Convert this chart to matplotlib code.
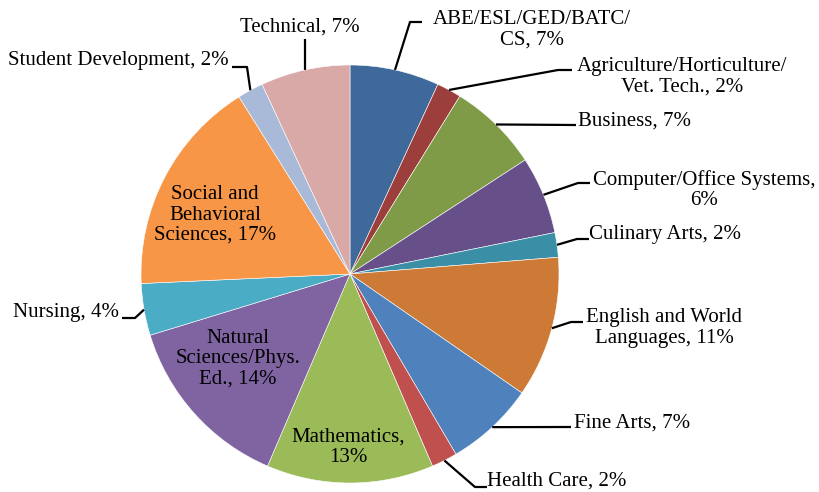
import numpy as np
import matplotlib
matplotlib.use("Agg")
import matplotlib.pyplot as plt

plt.rcParams['font.family'] = ['Liberation Serif', 'DejaVu Serif']

# slice shares, clockwise from 12 o'clock
values = [6.9, 1.9, 7.0, 6.0, 1.9, 10.9, 6.9, 2.0, 12.9, 13.8, 4.0, 16.8, 2.0, 6.9]
labels = ["ABE/ESL/GED/BATC/\nCS, {}%",
          "Agriculture/Horticulture/\nVet. Tech., {}%",
          "Business, {}%",
          "Computer/Office Systems,\n{}%",
          "Culinary Arts, {}%",
          "English and World\nLanguages, {}%",
          "Fine Arts, {}%",
          "Health Care, {}%",
          "Mathematics,\n{}%",
          "Natural\nSciences/Phys.\nEd., {}%",
          "Nursing, {}%",
          "Social and\nBehavioral\nSciences, {}%",
          "Student Development, {}%",
          "Technical, {}%"]
colors = ['#3E699A', '#9C3E3B', '#7F9B48', '#67508A', '#3A8FA7', '#CD7A36',
          '#4F81BD', '#C0504D', '#9BBB59', '#8064A2', '#4BACC6', '#F79646',
          '#A9B9D8', '#D9A9A8']

W, H = 820, 492
CX, CY, R = 350, 274, 209   # pixel layout, y measured from top

# label centre, leader knee and leader end (pixels from top); None = inside label
layout = [
    ((532, 30), (410, 22), (422, 22)),
    ((682, 77), (558, 70), (572, 70)),
    ((635, 121), None, (576, 125)),
    ((704, 190), (578, 183), (590, 183)),
    ((665, 235), (577, 239), (589, 239)),
    ((664, 328), (571, 322), (583, 322)),
    ((632, 423), None, (571, 427)),
    ((557, 481), (475, 487), (487, 487)),
    ((348, 447), None, None),
    ((238, 359), None, None),
    ((66, 312), (135, 318), (122, 318)),
    ((215, 215), None, None),
    ((118, 60), (247, 67), (232, 67)),
    ((300, 27), None, (305, 39)),
]


def fy(y):
    return H - y


def main() -> None:
    fig = plt.figure(figsize=(W / 100, H / 100), dpi=100)
    ax = fig.add_axes([0, 0, 1, 1])
    ax.pie(values, colors=colors, startangle=90, counterclock=False,
           center=(CX, fy(CY)), radius=R, frame=True,
           wedgeprops=dict(edgecolor='white', linewidth=0.4))
    ax.set_xlim(0, W)
    ax.set_ylim(0, H)
    ax.set_aspect('equal')
    ax.axis('off')

    total = sum(values)
    cum = np.cumsum(values)
    for i, v in enumerate(values):
        pct = int(round(v / total * 100))
        (tx, ty), knee, end = layout[i]
        ax.text(tx, fy(ty), labels[i].format(pct), fontsize=15,
                ha='center', va='center', multialignment='center',
                linespacing=1.1, color='black')
        if end is None:
            continue
        theta = np.radians(360 * (cum[i] - v / 2) / total)
        sx = CX + R * np.sin(theta)
        sy = fy(CY) + R * np.cos(theta)
        xs, ys = [sx], [sy]
        if knee is not None:
            xs.append(knee[0])
            ys.append(fy(knee[1]))
        xs.append(end[0])
        ys.append(fy(end[1]))
        ax.plot(xs, ys, color='black', lw=1.6, solid_capstyle='butt')

    fig.savefig("out.png", dpi=100)


if __name__ == "__main__":
    main()
